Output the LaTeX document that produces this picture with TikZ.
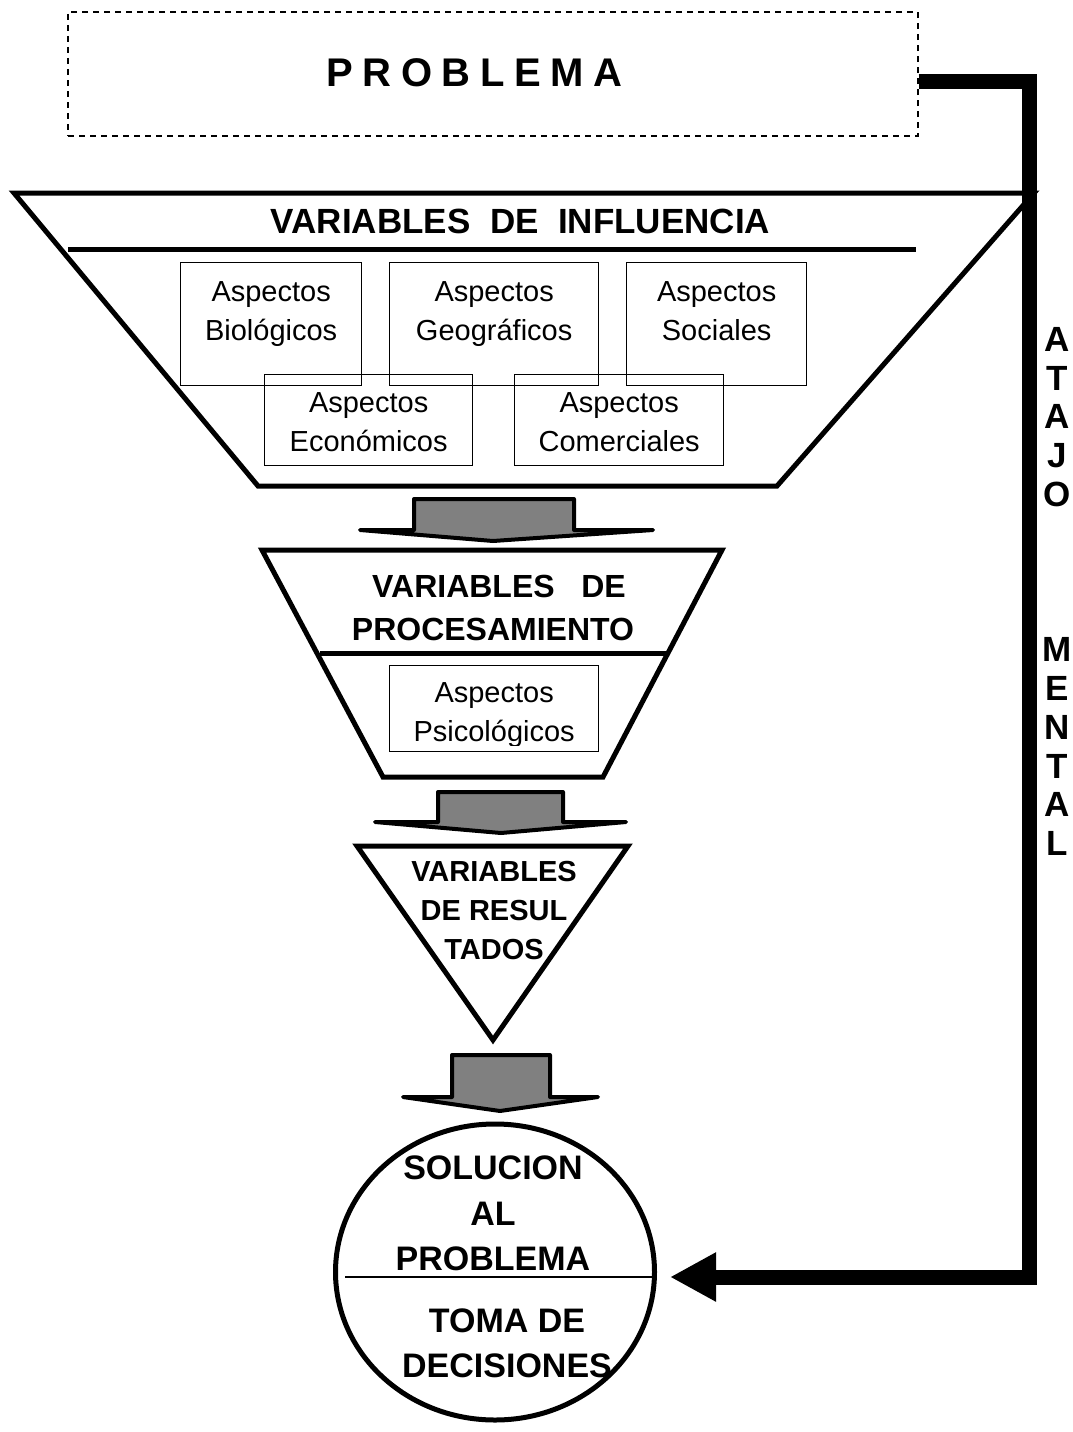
\documentclass[tikz,border=0pt]{standalone}
\usepackage{fontspec}
\setmainfont{Liberation Sans}
\usetikzlibrary{arrows.meta,shapes.geometric,calc}
\definecolor{arrowgray}{RGB}{128,128,128}
\begin{document}
\begin{tikzpicture}[x=1pt,y=-1pt,
  funnel/.style={draw=black,line width=5pt,line join=miter},
  sepline/.style={draw=black,line width=5pt},
  aspbox/.style={draw=black,line width=1.3pt,inner sep=0pt,anchor=north west},
  asptext/.style={inner sep=0pt,anchor=north,align=center,font=\fontsize{29}{39.5}\selectfont},
  blockarrow/.style={draw=black,fill=arrowgray,line width=4pt,line join=round},
  boldtext/.style={inner sep=0pt,font=\bfseries\fontsize{#1}{#1}\selectfont},
]
\useasboundingbox (0,0) rectangle (1073,1432);

% problem box
\node[draw=black,line width=1.3pt,dash pattern=on 6pt off 5pt,minimum width=850pt,minimum height=124pt,inner sep=0pt] (prob) at (493,74) {};
\def\g{\hspace{9.5pt}}
\node[boldtext=40,anchor=base] (probt) at (474.5,86) {P\g R\g O\g B\g L\g E\g M\g A};

% funnel 1
\draw[funnel] (14,193) -- (1034,193) -- (777,486) -- (258,486) -- cycle;
\node[boldtext=35,anchor=base] (vinf) at (520.5,233) {VARIABLES\ \ DE\ \ INFLUENCIA};
\coordinate (l1a) at (68,249);
\coordinate (l1b) at (916,249);
\draw[sepline] (l1a) -- (l1b);

\node[aspbox,minimum width=181pt,minimum height=123pt] (bio) at (180,262) {};
\node[aspbox,minimum width=209pt,minimum height=123pt] (geo) at (389,262) {};
\node[aspbox,minimum width=180pt,minimum height=123pt] (soc) at (626,262) {};
\node[aspbox,minimum width=208pt,minimum height=91pt] (eco) at (264,374) {};
\node[aspbox,minimum width=209pt,minimum height=91pt] (com) at (514,374) {};
\node[asptext] (biot) at ($(bio.north)+(0,19)$) {Aspectos\\Biológicos};
\node[asptext] (geot) at ($(geo.north)+(0,19)$) {Aspectos\\Geográficos};
\node[asptext] (soct) at ($(soc.north)+(0,19)$) {Aspectos\\Sociales};
\node[asptext] (ecot) at ($(eco.north)+(0,18)$) {Aspectos\\Económicos};
\node[asptext] (comt) at ($(com.north)+(0,18)$) {Aspectos\\Comerciales};

% arrow 1
\draw[blockarrow] (414,499) -- (574,499) -- (574,530) -- (653,530) -- (493,541) -- (360,530) -- (414,530) -- cycle;

% funnel 2
\draw[funnel] (262,550) -- (722,550) -- (603,777) -- (383,777) -- cycle;
\node[boldtext=32,anchor=base] (vp1) at (499,597) {VARIABLES\ \ \ DE};
\node[boldtext=32,anchor=base] (vp2) at (493,640) {PROCESAMIENTO};
\coordinate (l2a) at (320,653);
\coordinate (l2b) at (668,653);
\draw[sepline] (l2a) -- (l2b);
\node[aspbox,minimum width=209pt,minimum height=86pt] (psi) at (389,665) {};
\begin{scope}
\clip (389,665) rectangle (598,745);
\node[asptext] (psit) at ($(psi.north)+(0,17)$) {Aspectos\\Psicológicos};
\end{scope}

% arrow 2
\draw[blockarrow] (438,792) -- (563,792) -- (563,822) -- (626,822) -- (501,833) -- (375,822) -- (438,822) -- cycle;

% triangle 3
\draw[funnel] (357,846) -- (628,846) -- (493,1040) -- cycle;
\node[inner sep=0pt,anchor=north,align=center,font=\bfseries\fontsize{29}{39}\selectfont] (vr) at (494,861) {VARIABLES\\DE RESUL\\TADOS};

% arrow 3
\draw[blockarrow] (452,1055) -- (550,1055) -- (550,1097) -- (598,1097) -- (500,1111) -- (403,1097) -- (452,1097) -- cycle;

% solution circle
\node[ellipse,draw=black,line width=5pt,minimum width=319pt,minimum height=296pt,inner sep=0pt] (sol) at (495,1272) {};
\coordinate (l3a) at (345,1277);
\coordinate (l3b) at (653,1277);
\draw[line width=1.8pt] (l3a) -- (l3b);
\node[inner sep=0pt,anchor=north,align=center,font=\bfseries\fontsize{34}{45.5}\selectfont] (solt) at (493,1155.7) {SOLUCION\\AL\\PROBLEMA};
\node[inner sep=0pt,anchor=north,align=center,font=\bfseries\fontsize{34}{45}\selectfont] (tomt) at (507,1308.7) {TOMA DE\\DECISIONES};

% shortcut connector
\coordinate (corner) at (1029,1277);
\draw[line width=15pt,line join=miter,-{Triangle[length=46pt,width=46pt]}] ($(prob.east)+(0,7)$) -| (corner) -- ($(sol.east)+(13,5)$);
\node[inner sep=0pt,anchor=north,align=center,font=\bfseries\fontsize{35}{38.8}\selectfont] (atajo) at (1057,327) {A\\T\\A\\J\\O\\[116.4pt]M\\E\\N\\T\\A\\L};
\end{tikzpicture}
\end{document}
